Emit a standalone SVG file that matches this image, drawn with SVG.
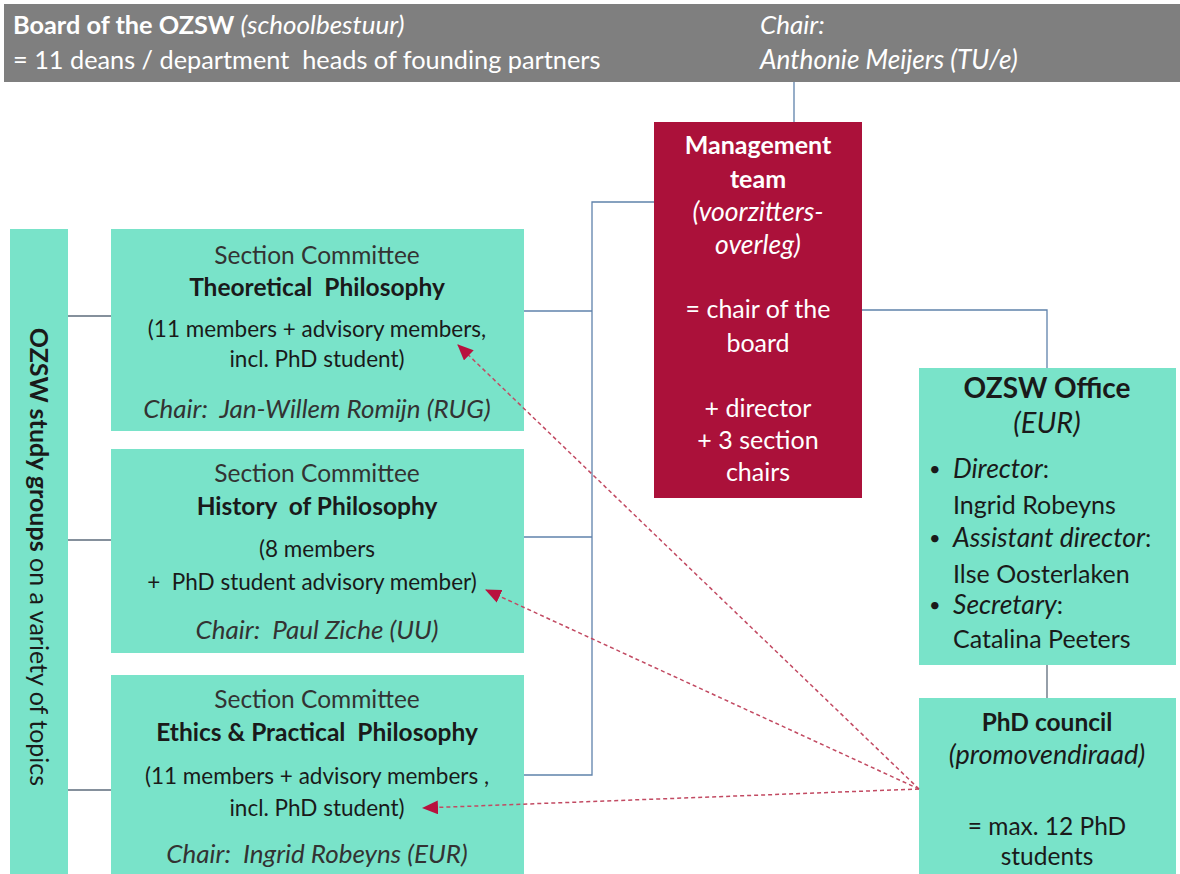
<svg xmlns="http://www.w3.org/2000/svg" width="1180" height="874" viewBox="0 0 1180 874">
<style>
text{font-family:Lato,"Open Sans","Liberation Sans",sans-serif;}
.teal{fill:#79e3c9;}
.b{font-weight:bold;}
.i{font-style:italic;}
.dk{fill:#1a1a1a;}
.wh{fill:#ffffff;}
.hd{font-size:25.3px;}
.sc{font-size:24.5px;fill:#333333;}
.st{font-size:24.5px;}
.sp{font-size:22.5px;}
.ch{font-size:26px;fill:#333333;}
.mg{font-size:25px;}
.mgi{font-size:26.5px;}
.of{font-size:25px;}
.ofi{font-size:26.5px;}
.conn{stroke:#5f82ab;stroke-width:1.3;fill:none;}
.conn2{stroke:#5d6b7b;stroke-width:1.3;fill:none;}
.dash{stroke:#c24a62;stroke-width:1.5;stroke-dasharray:4,3;fill:none;}
</style>
<defs>
<marker id="ah" viewBox="0 0 16 14" refX="15" refY="7" markerWidth="16" markerHeight="14" orient="auto" markerUnits="userSpaceOnUse">
<path d="M0,0 L16,7 L0,14 z" fill="#b8123e"/>
</marker>
</defs>
<rect width="1180" height="874" fill="#ffffff"/>

<g id="board">
<rect x="4" y="4" width="1176" height="78" fill="#7f7f7f"/>
<text x="13" y="34" class="wh hd"><tspan class="b">Board of the OZSW</tspan><tspan class="i" font-size="26"> (schoolbestuur)</tspan></text>
<text x="13" y="69" class="wh hd" xml:space="preserve">= 11 deans / department  heads of founding partners</text>
<text x="760" y="34" class="wh i" font-size="26">Chair:</text>
<text x="760" y="69" class="wh i" font-size="26.2">Anthonie Meijers (TU/e)</text>
</g>

<g id="studygroups">
<rect x="10" y="229" width="58" height="645" class="teal"/>
<text transform="translate(30,557) rotate(90)" text-anchor="middle" class="dk" font-size="25" xml:space="preserve"><tspan class="b">OZSW study groups</tspan> on a variety of topics</text>
</g>

<g id="theoretical">
<rect x="111" y="229" width="413" height="202" class="teal"/>
<text x="317" y="264" text-anchor="middle" class="sc">Section Committee</text>
<text x="317" y="296" text-anchor="middle" class="dk b st" xml:space="preserve">Theoretical  Philosophy</text>
<text x="317" y="337" text-anchor="middle" class="dk sp">(11 members + advisory members,</text>
<text x="317" y="367" text-anchor="middle" class="dk sp">incl. PhD student)</text>
<text x="317" y="418" text-anchor="middle" class="i ch" xml:space="preserve">Chair:  Jan-Willem Romijn (RUG)</text>
</g>

<g id="history">
<rect x="111" y="449" width="413" height="204" class="teal"/>
<text x="317" y="482" text-anchor="middle" class="sc">Section Committee</text>
<text x="317" y="515" text-anchor="middle" class="dk b st" xml:space="preserve">History  of Philosophy</text>
<text x="317" y="557" text-anchor="middle" class="dk sp">(8 members</text>
<text x="312" y="590" text-anchor="middle" class="dk sp" xml:space="preserve">+  PhD student advisory member)</text>
<text x="317" y="639" text-anchor="middle" class="i ch" xml:space="preserve">Chair:  Paul Ziche (UU)</text>
</g>

<g id="ethics">
<rect x="111" y="675" width="413" height="199" class="teal"/>
<text x="317" y="708" text-anchor="middle" class="sc">Section Committee</text>
<text x="317" y="741" text-anchor="middle" class="dk b st" xml:space="preserve">Ethics &amp; Practical  Philosophy</text>
<text x="317" y="784" text-anchor="middle" class="dk sp">(11 members + advisory members ,</text>
<text x="317" y="816" text-anchor="middle" class="dk sp">incl. PhD student)</text>
<text x="317" y="863" text-anchor="middle" class="i ch" xml:space="preserve">Chair:  Ingrid Robeyns (EUR)</text>
</g>

<g id="management">
<rect x="654" y="122" width="208" height="376" fill="#ab113a"/>
<text x="758" y="154" text-anchor="middle" class="wh b mg">Management</text>
<text x="758" y="188" text-anchor="middle" class="wh b mg">team</text>
<text x="758" y="221" text-anchor="middle" class="wh i mgi">(voorzitters-</text>
<text x="758" y="254" text-anchor="middle" class="wh i mgi">overleg)</text>
<text x="758" y="318" text-anchor="middle" class="wh mg">= chair of the</text>
<text x="758" y="352" text-anchor="middle" class="wh mg">board</text>
<text x="758" y="417" text-anchor="middle" class="wh mg">+ director</text>
<text x="758" y="449" text-anchor="middle" class="wh mg">+ 3 section</text>
<text x="758" y="481" text-anchor="middle" class="wh mg">chairs</text>
</g>

<g id="office">
<rect x="919" y="368" width="257" height="297" class="teal"/>
<text x="1047" y="398" text-anchor="middle" class="dk b" font-size="28">OZSW Office</text>
<text x="1047" y="433" text-anchor="middle" class="dk i" font-size="29">(EUR)</text>
<text x="929" y="476" class="dk" font-size="20">•</text>
<text x="953" y="478" class="dk of"><tspan class="i ofi">Director</tspan>:</text>
<text x="953" y="514" class="dk of">Ingrid Robeyns</text>
<text x="929" y="545" class="dk" font-size="20">•</text>
<text x="953" y="547" class="dk of"><tspan class="i ofi">Assistant director</tspan>:</text>
<text x="953" y="583" class="dk of">Ilse Oosterlaken</text>
<text x="929" y="612" class="dk" font-size="20">•</text>
<text x="953" y="614" class="dk of"><tspan class="i ofi">Secretary</tspan>:</text>
<text x="953" y="648" class="dk of">Catalina Peeters</text>
</g>

<g id="phdcouncil">
<rect x="919" y="698" width="257" height="176" class="teal"/>
<text x="1047" y="731" text-anchor="middle" class="dk b" font-size="24.5">PhD council</text>
<text x="1047" y="764" text-anchor="middle" class="dk i" font-size="27">(promovendiraad)</text>
<text x="1047" y="835" text-anchor="middle" class="dk" font-size="24.5">= max. 12 PhD</text>
<text x="1047" y="865" text-anchor="middle" class="dk" font-size="24.5">students</text>
</g>

<g id="connectors">
<line class="conn" x1="794" y1="82" x2="794" y2="122"/>
<polyline class="conn" points="654,202 592,202 592,775 524,775"/>
<line class="conn" x1="524" y1="311" x2="592" y2="311"/>
<line class="conn" x1="524" y1="537" x2="592" y2="537"/>
<polyline class="conn" points="862,310 1047,310 1047,368"/>
<line class="conn2" x1="1047" y1="665" x2="1047" y2="698"/>
<line class="conn2" x1="68" y1="316" x2="111" y2="316"/>
<line class="conn2" x1="68" y1="540" x2="111" y2="540"/>
<line class="conn2" x1="68" y1="790" x2="111" y2="790"/>
<line class="dash" x1="919" y1="789" x2="458" y2="345" marker-end="url(#ah)"/>
<line class="dash" x1="919" y1="789" x2="486" y2="590" marker-end="url(#ah)"/>
<line class="dash" x1="919" y1="789" x2="423" y2="808" marker-end="url(#ah)"/>
</g>
</svg>
